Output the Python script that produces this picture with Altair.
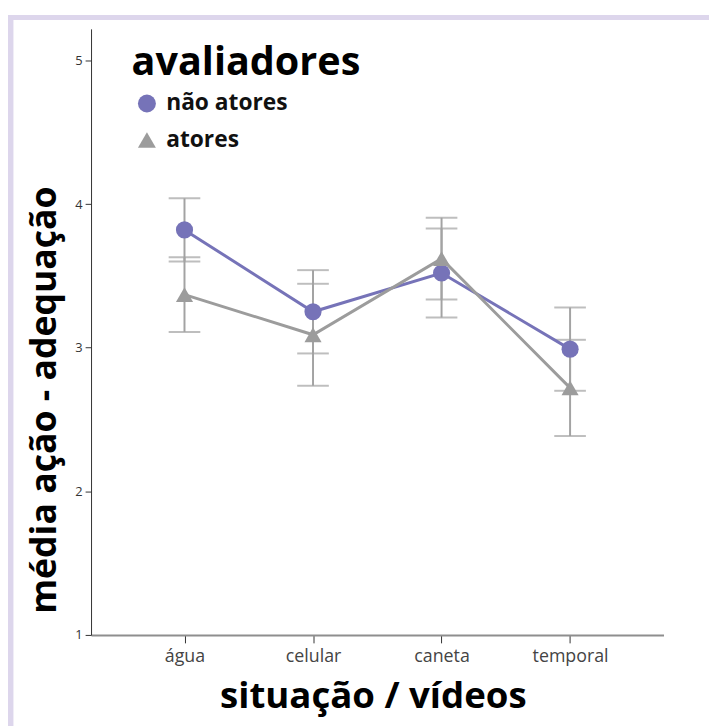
import altair as alt
import pandas as pd

categories = ["água", "celular", "caneta", "temporal"]
groups = ["não atores", "atores"]
nao_atores_mean = [3.82, 3.25, 3.52, 2.99]
nao_atores_err = [0.22, 0.29, 0.31, 0.29]
atores_mean = [3.37, 3.09, 3.62, 2.72]
atores_err = [0.26, 0.355, 0.285, 0.335]

rows = []
for g, means, errs in [(groups[0], nao_atores_mean, nao_atores_err),
                       (groups[1], atores_mean, atores_err)]:
    for c, m, e in zip(categories, means, errs):
        rows.append({"situacao": c, "grupo": g, "media": m, "lo": m - e, "hi": m + e})
df = pd.DataFrame(rows)

PURPLE = "#7673b8"
GRAY = "#9c9c9c"
ERR = "#a3a3a3"
FONT = "Open Sans"

xenc = alt.X(
    "situacao:N",
    sort=categories,
    scale=alt.Scale(type="point", domain=categories, padding=0.727),
    axis=alt.Axis(
        title="situação / vídeos", labelAngle=0, tickSize=8, labelPadding=5,
        labelFontSize=18, labelColor="#444444", labelFont=FONT,
        domainColor="#8e8e8e", domainWidth=2, tickColor="#333333",
        titleFont=FONT, titleFontSize=37, titleFontWeight="bold", titleColor="#000000",
        titleX=285, titleY=73, titleAlign="center", titleBaseline="alphabetic",
    ),
)
yscale = alt.Scale(domain=[1, 5.22], nice=False, zero=False)
yaxis = alt.Axis(
    title="média ação - adequação", values=[1, 2, 3, 4, 5], format="d", grid=False,
    tickSize=6, labelPadding=3, labelFontSize=13, labelColor="#333333", labelFont=FONT,
    domainColor="#333333", tickColor="#333333",
    titleFont=FONT, titleFontSize=36, titleFontWeight="bold", titleColor="#000000",
    titleAngle=270, titleX=-47, titleY=375, titleAlign="center", titleBaseline="middle",
)

colscale = alt.Scale(domain=groups, range=[PURPLE, GRAY])
shpscale = alt.Scale(domain=groups, range=["circle", "triangle-up"])

base = alt.Chart(df)

rules = base.mark_rule(color=ERR, strokeWidth=2).encode(
    x=xenc, y=alt.Y("lo:Q", scale=yscale, axis=yaxis), y2="hi:Q")
caps_lo = base.mark_tick(color=ERR, thickness=2, size=32).encode(
    x=xenc, y=alt.Y("lo:Q", scale=yscale))
caps_hi = base.mark_tick(color=ERR, thickness=2, size=32).encode(
    x=xenc, y=alt.Y("hi:Q", scale=yscale))

legend = alt.Legend(orient="none", legendX=41, legendY=15,
                    titleFont=FONT, titleFontSize=40, titleFontWeight="bold",
                    titleColor="#000000", titlePadding=9, titleLimit=600,
                    labelFont=FONT, labelFontSize=23, labelFontWeight="bold",
                    labelColor="#111111", labelLimit=400, symbolSize=330, rowPadding=13,
                    symbolStrokeWidth=0, symbolOffset=4, labelOffset=8)

lines = base.mark_line(strokeWidth=3).encode(
    x=xenc, y=alt.Y("media:Q", scale=yscale),
    color=alt.Color("grupo:N", scale=colscale, legend=None),
    order=alt.Order("grupo:N", sort="ascending"),
)

points = base.mark_point(filled=True, opacity=1, size=300).encode(
    x=xenc, y=alt.Y("media:Q", scale=yscale),
    color=alt.Color("grupo:N", scale=colscale, title="avaliadores", legend=legend),
    shape=alt.Shape("grupo:N", scale=shpscale, title="avaliadores", legend=legend),
)

frame = pd.DataFrame({"k": [0]})
border_left = alt.Chart(frame).mark_rule(color="#ddd6ec", strokeWidth=6).encode(
    x=alt.value(-81.5), y=alt.value(-14), y2=alt.value(800))
border_top = alt.Chart(frame).mark_rule(color="#ddd6ec", strokeWidth=5).encode(
    x=alt.value(-84), x2=alt.value(720), y=alt.value(-11.5))

chart = alt.layer(border_left, border_top, rules, caps_lo, caps_hi, lines, points).resolve_legend(
    color="independent", shape="independent"
).properties(
    width=579, height=613,
    autosize=alt.AutoSizeParams(type="none"),
    padding={"left": 84, "top": 17, "right": 46, "bottom": 88},
).configure_view(stroke=None)

chart.save("out.html", embed_options={"renderer": "svg", "actions": False})
